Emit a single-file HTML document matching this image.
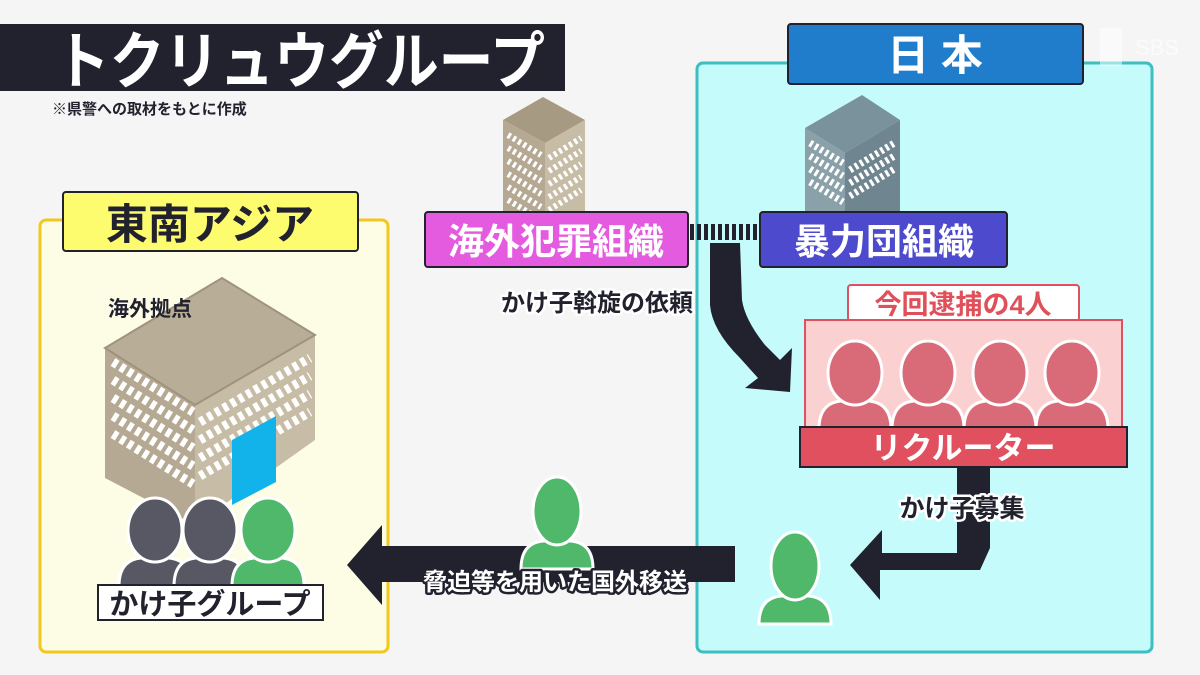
<!DOCTYPE html>
<html><head><meta charset="utf-8"><style>
html,body{margin:0;padding:0;background:#f5f5f5;}
svg{display:block;font-family:"Liberation Sans","Noto Sans CJK JP",sans-serif;font-weight:bold;}
</style></head><body>
<svg width="1200" height="675" viewBox="0 0 1200 675" xmlns="http://www.w3.org/2000/svg">
<defs>
<g id="p">
<path d="M-36,34 Q-36,8 -14,6 L14,6 Q36,8 36,34 Z" stroke="#fff" stroke-width="3"/>
<ellipse cx="0" cy="-22" rx="27" ry="32" stroke="#fff" stroke-width="3"/>
</g>
<g id="pg">
<path d="M-36,34 Q-36,8 -14,6 L14,6 Q36,8 36,34 Z" fill="#4fb86a" stroke="#fff" stroke-width="3"/>
<ellipse cx="0" cy="-24" rx="24" ry="34" fill="#4fb86a" stroke="#fff" stroke-width="3"/>
</g>
</defs>
<rect width="1200" height="675" fill="#f5f5f5"/>
<!-- title -->
<rect x="0" y="24" width="565" height="67" fill="#22222f"/>
<text x="300" y="83" font-size="62" fill="#fff" text-anchor="middle" textLength="490" lengthAdjust="spacingAndGlyphs">トクリュウグループ</text>
<text x="52" y="114" font-size="15" fill="#22222f">※県警への取材をもとに作成</text>

<!-- Japan region -->
<rect x="697" y="63" width="455" height="589" rx="6" fill="#c6fbfc" stroke="#3cbfc0" stroke-width="3"/>
<rect x="788" y="24" width="295" height="60" rx="3" fill="#1f7dcb" stroke="#22222f" stroke-width="2"/>
<text x="935" y="70" font-size="42" fill="#fff" text-anchor="middle">日 本</text>
<text x="1135" y="55" font-size="22" fill="#fff" opacity="0.6" font-weight="normal">SBS</text>
<rect x="1100" y="28" width="22" height="38" fill="#fff" opacity="0.5"/>

<!-- SE Asia region -->
<rect x="40" y="220" width="348" height="432" rx="6" fill="#fdfde6" stroke="#f2c81a" stroke-width="3"/>
<rect x="63" y="192" width="295" height="59" rx="3" fill="#fdfc6e" stroke="#22222f" stroke-width="2"/>
<text x="210" y="239" font-size="42" fill="#22222f" text-anchor="middle">東南アジア</text>

<!-- big building -->
<polygon points="105,348 195,405 195,525 105,478" fill="#b5a993"/>
<polygon points="195,405 315,335 315,440 195,525" fill="#c7bca5"/>
<polygon points="105,348 222,278 315,335 195,405" fill="#b8ad96" stroke="#9f937d" stroke-width="2"/>
<path d="M113,362 l80,50 M113,380 l80,50 M113,398 l80,50 M113,416 l80,50 M113,434 l80,50" stroke="#fff" stroke-width="9" stroke-dasharray="5 4"/>
<path d="M200,422 l110,-64 M200,440 l110,-64 M200,458 l110,-64 M200,476 l110,-64" stroke="#fff" stroke-width="9" stroke-dasharray="5 4"/>
<polygon points="232,440 276,416 276,482 232,505" fill="#12b3ea"/>
<text x="108" y="316" font-size="21" fill="#22222f">海外拠点</text>

<!-- people left -->
<g transform="translate(155,552)" fill="#575864"><use href="#p"/></g>
<g transform="translate(210,552)" fill="#575864"><use href="#p"/></g>
<g transform="translate(268,552)" fill="#4fb86a"><use href="#p"/></g>
<rect x="98" y="585" width="225" height="35" fill="#fff" stroke="#22222f" stroke-width="2"/>
<text x="210" y="614" font-size="29" fill="#22222f" text-anchor="middle">かけ子グループ</text>

<!-- small buildings -->
<polygon points="503,120 543,97 585,120 545,143" fill="#a69a82"/>
<polygon points="503,120 545,143 545,215 503,215" fill="#b5a993"/>
<polygon points="545,143 585,120 585,215 545,215" fill="#c7bca5"/>
<path d="M508,135 l33,20 M508,148 l33,20 M508,161 l33,20 M508,174 l33,20 M508,187 l33,20 M508,200 l33,20" stroke="#fff" stroke-width="6" stroke-dasharray="3 3"/>
<path d="M549,158 l32,-20 M549,171 l32,-20 M549,184 l32,-20 M549,197 l32,-20 M549,210 l32,-20" stroke="#fff" stroke-width="6" stroke-dasharray="3 3"/>

<polygon points="805,128 862,95 900,120 845,153" fill="#7a929c"/>
<polygon points="805,128 845,153 845,215 805,215" fill="#8aa1aa"/>
<polygon points="845,153 900,120 900,215 845,215" fill="#6f858f"/>
<path d="M810,143 l33,20 M810,156 l33,20 M810,169 l33,20 M810,182 l33,20" stroke="#fff" stroke-width="7" stroke-dasharray="3 3"/>
<path d="M850,170 l46,-28 M850,183 l46,-28 M850,196 l46,-28" stroke="#fff" stroke-width="7" stroke-dasharray="3 3"/>

<!-- org boxes -->
<rect x="425" y="212" width="263" height="55" rx="3" fill="#e55be0" stroke="#22222f" stroke-width="2"/>
<text x="556" y="254" font-size="36" fill="#fff" text-anchor="middle">海外犯罪組織</text>
<line x1="690" y1="232" x2="758" y2="232" stroke="#22222f" stroke-width="16" stroke-dasharray="4 3"/>
<rect x="760" y="212" width="247" height="55" rx="3" fill="#4d4acd" stroke="#22222f" stroke-width="2"/>
<text x="884" y="254" font-size="36" fill="#fff" text-anchor="middle">暴力団組織</text>

<!-- arrow down-right -->
<path d="M710,243 L740,243 L742,300 Q745,320 765,345 L780,360 L792,348 L790,392 L745,388 L758,378 L740,358 Q712,330 710,305 Z" fill="#22222f"/>
<text x="597" y="311" font-size="24" fill="#22222f" stroke="#fff" stroke-width="5" paint-order="stroke" text-anchor="middle" stroke-linejoin="round">かけ子斡旋の依頼</text>

<!-- arrested -->
<rect x="848" y="285" width="231" height="36" rx="3" fill="#fff" stroke="#e05060" stroke-width="2"/>
<text x="963" y="314" font-size="27" fill="#e0505a" text-anchor="middle">今回逮捕の4人</text>
<rect x="805" y="320" width="317" height="110" fill="#fbd0d0" stroke="#e05060" stroke-width="2"/>
<g fill="#d96a78">
<g transform="translate(855,395)"><use href="#p"/></g>
<g transform="translate(928,395)"><use href="#p"/></g>
<g transform="translate(1000,395)"><use href="#p"/></g>
<g transform="translate(1072,395)"><use href="#p"/></g>
</g>
<rect x="800" y="427" width="327" height="40" fill="#e0505e" stroke="#22222f" stroke-width="2"/>
<text x="963" y="459" font-size="31" fill="#fff" text-anchor="middle">リクルーター</text>

<!-- recruit arrow -->
<path d="M957,467 L990,467 L990,548 L980,570 L880,570 L880,600 L850,565 L882,530 L882,553 L957,553 Z" fill="#22222f"/>
<text x="962" y="517" font-size="25" fill="#22222f" stroke="#fff" stroke-width="5" paint-order="stroke" text-anchor="middle" stroke-linejoin="round">かけ子募集</text>
<g transform="translate(795,590)"><use href="#pg"/></g>

<!-- big left arrow -->
<polygon points="735,546 382,546 382,525 347,565 382,605 382,582 735,582" fill="#22222f"/>
<g transform="translate(557,535)"><use href="#pg"/></g>
<text x="555" y="590" font-size="24" fill="#fff" stroke="#22222f" stroke-width="5" paint-order="stroke" text-anchor="middle" stroke-linejoin="round">脅迫等を用いた国外移送</text>
</svg>
</body></html>
